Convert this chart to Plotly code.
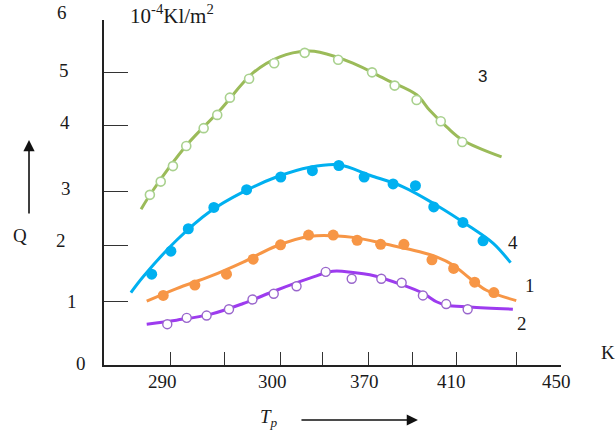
import plotly.graph_objects as go

# ---- data (x in K, y in 10^-4 Kl/m^2) ----
# curve 3 (green)
g_pts_x = [270.3, 275.1, 280.5, 286.4, 294.1, 300.1, 305.7, 314.2, 325.3, 338.8, 353.6, 368.6, 378.6, 388.3, 399.0, 408.5]
g_pts_y = [2.96, 3.19, 3.46, 3.81, 4.12, 4.35, 4.65, 4.98, 5.25, 5.43, 5.31, 5.09, 4.86, 4.61, 4.24, 3.88]
g_fit_x = [266.4, 271.7, 286.7, 301.3, 315.9, 327.8, 339.7, 345.5, 360.1, 375.1, 388.3, 394.1, 401.6, 408.7, 425.9]
g_fit_y = [2.71, 3.04, 3.83, 4.43, 5.08, 5.36, 5.46, 5.44, 5.25, 4.96, 4.70, 4.43, 4.14, 3.91, 3.62]

# curve 4 (blue)
b_pts_x = [271.1, 279.6, 287.3, 298.6, 313.1, 328.2, 342.2, 353.9, 365.1, 377.9, 387.8, 395.9, 408.8, 417.7]
b_pts_y = [1.58, 1.98, 2.37, 2.74, 3.05, 3.27, 3.38, 3.47, 3.27, 3.15, 3.12, 2.75, 2.48, 2.16]
b_fit_x = [261.9, 267.4, 282.1, 296.9, 311.6, 326.3, 341.1, 354.3, 367.6, 382.3, 397.1, 411.8, 422.1, 429.9]
b_fit_y = [1.26, 1.54, 2.17, 2.67, 3.01, 3.27, 3.44, 3.48, 3.30, 3.10, 2.78, 2.41, 2.12, 1.78]

# curve 1 (orange)
o_pts_x = [276.2, 290.2, 304.2, 316.0, 328.1, 340.5, 351.4, 362.0, 372.4, 382.7, 395.1, 404.7, 414.0, 422.5]
o_pts_y = [1.21, 1.39, 1.58, 1.84, 2.09, 2.26, 2.26, 2.17, 2.10, 2.10, 1.83, 1.68, 1.44, 1.26]
o_fit_x = [268.9, 282.1, 296.9, 311.6, 326.3, 341.1, 360.2, 375.0, 389.7, 397.1, 404.4, 411.8, 419.2, 432.4]
o_fit_y = [1.11, 1.33, 1.54, 1.79, 2.07, 2.24, 2.22, 2.10, 1.97, 1.88, 1.74, 1.51, 1.30, 1.12]

# curve 2 (purple)
p_pts_x = [278.0, 286.6, 295.4, 305.3, 315.7, 325.1, 335.2, 348.1, 359.6, 372.7, 381.7, 391.1, 401.4, 410.9]
p_pts_y = [0.71, 0.82, 0.86, 0.97, 1.14, 1.24, 1.37, 1.62, 1.50, 1.50, 1.43, 1.21, 1.06, 0.97]
p_fit_x = [268.9, 282.1, 296.9, 311.6, 326.3, 341.1, 351.2, 360.2, 367.6, 382.3, 391.1, 397.1, 401.5, 411.8, 430.9]
p_fit_y = [0.71, 0.78, 0.88, 1.07, 1.30, 1.51, 1.63, 1.61, 1.57, 1.39, 1.25, 1.10, 1.04, 1.01, 0.97]

# axis ticks
x_tick_vals = [279.2, 303.1, 328.2, 346.8, 367.1, 386.6, 406.0, 432.5, 452.0]
y_tick_vals = [0, 1.113, 2.087, 3.026, 4.174, 5.096, 6]
x_label_text = ["290", "300", "370", "410", "450"]
x_label_pos = [0.1291, 0.3698, 0.5711, 0.7593, 0.9912]
y_label_text = ["6", "5", "4", "3", "2", "1", "0"]
y_label_pos = [(-0.0919, 1.0203), (-0.0875, 0.8522), (-0.0853, 0.7029), (-0.0832, 0.5130),
               (-0.094, 0.3623), (-0.0700, 0.1855), (-0.0503, 0.0029)]
curve_names = ["3", "4", "1", "2"]
curve_name_pos = [(0.829, 0.835), (0.895, 0.3565), (0.932, 0.229), (0.915, 0.1217)]

SERIF = "Liberation Serif"
TXT = "#1a1a1a"

fig = go.Figure()

def add_curve(fx, fy, px, py, lc, mfill, mline, msize, mlw):
    fig.add_trace(go.Scatter(x=fx, y=fy, mode="lines",
                             line=dict(color=lc, width=3, shape="spline", smoothing=1.0),
                             showlegend=False, hoverinfo="skip"))
    fig.add_trace(go.Scatter(x=px, y=py, mode="markers",
                             marker=dict(symbol="circle", size=msize, color=mfill,
                                         line=dict(color=mline, width=mlw)),
                             showlegend=False))

add_curve(g_fit_x, g_fit_y, g_pts_x, g_pts_y, "#9BBB59", "white", "#A9D18E", 9, 1.6)
add_curve(b_fit_x, b_fit_y, b_pts_x, b_pts_y, "#00B0F0", "#00B0F0", "#00B0F0", 11, 0)
add_curve(o_fit_x, o_fit_y, o_pts_x, o_pts_y, "#F79646", "#F79646", "#F79646", 11, 0)
add_curve(p_fit_x, p_fit_y, p_pts_x, p_pts_y, "#9D3BEF", "white", "#9966CC", 9, 1.4)

def label(text, xp, yp, size=19, family=SERIF, xanchor="center"):
    return dict(text=text, x=xp, y=yp, xref="paper", yref="paper", showarrow=False,
                xanchor=xanchor, yanchor="middle", font=dict(family=family, size=size, color=TXT))

annotations = []
for t, xp in zip(x_label_text, x_label_pos):
    annotations.append(label(t, xp, -0.049))
for t, (xp, yp) in zip(y_label_text, y_label_pos):
    annotations.append(label(t, xp, yp))
for t, (xp, yp) in zip(curve_names, curve_name_pos):
    if t == "3":
        annotations.append(label(t, xp, yp, size=17, family="Liberation Sans"))
    else:
        annotations.append(label(t, xp, yp))

annotations += [
    label("10<sup>-4</sup>Kl/m<sup>2</sup>", 0.0525, 1.0145, size=21, xanchor="left"),
    label("Q", -0.1838, 0.374),
    label("K", 1.1028, 0.0348),
    label("<i>T<sub>p</sub></i>", 0.361, -0.1536),
    # arrows
    dict(text="", x=-0.1641, y=0.652, xref="paper", yref="paper", showarrow=True,
         ax=0, ay=75, axref="pixel", ayref="pixel", arrowhead=2, arrowsize=1.4,
         arrowwidth=1.6, arrowcolor="#111"),
    dict(text="", x=0.687, y=-0.1594, xref="paper", yref="paper", showarrow=True,
         ax=-118, ay=0, axref="pixel", ayref="pixel", arrowhead=2, arrowsize=1.4,
         arrowwidth=1.6, arrowcolor="#111"),
]

fig.update_layout(
    width=616, height=433,
    margin=dict(l=104, r=55, t=20, b=68),
    paper_bgcolor="white", plot_bgcolor="white",
    annotations=annotations,
    xaxis=dict(range=[250, 452.2], showgrid=False, zeroline=False,
               showline=True, linecolor="#222", linewidth=1.5,
               ticks="inside", ticklen=13, tickwidth=1.3, tickcolor="#333",
               tickvals=x_tick_vals, showticklabels=False, fixedrange=True),
    yaxis=dict(range=[0, 6.001], showgrid=False, zeroline=False,
               showline=True, linecolor="#222", linewidth=1.5,
               ticks="inside", ticklen=24, tickwidth=1.3, tickcolor="#333",
               tickvals=y_tick_vals, showticklabels=False, fixedrange=True),
)

# remove the browser's default 8px body margin so the figure fills the window
fig.write_html("out.html", config={"displayModeBar": False},
               post_script="document.body.style.margin='0';document.body.style.overflow='hidden';")
